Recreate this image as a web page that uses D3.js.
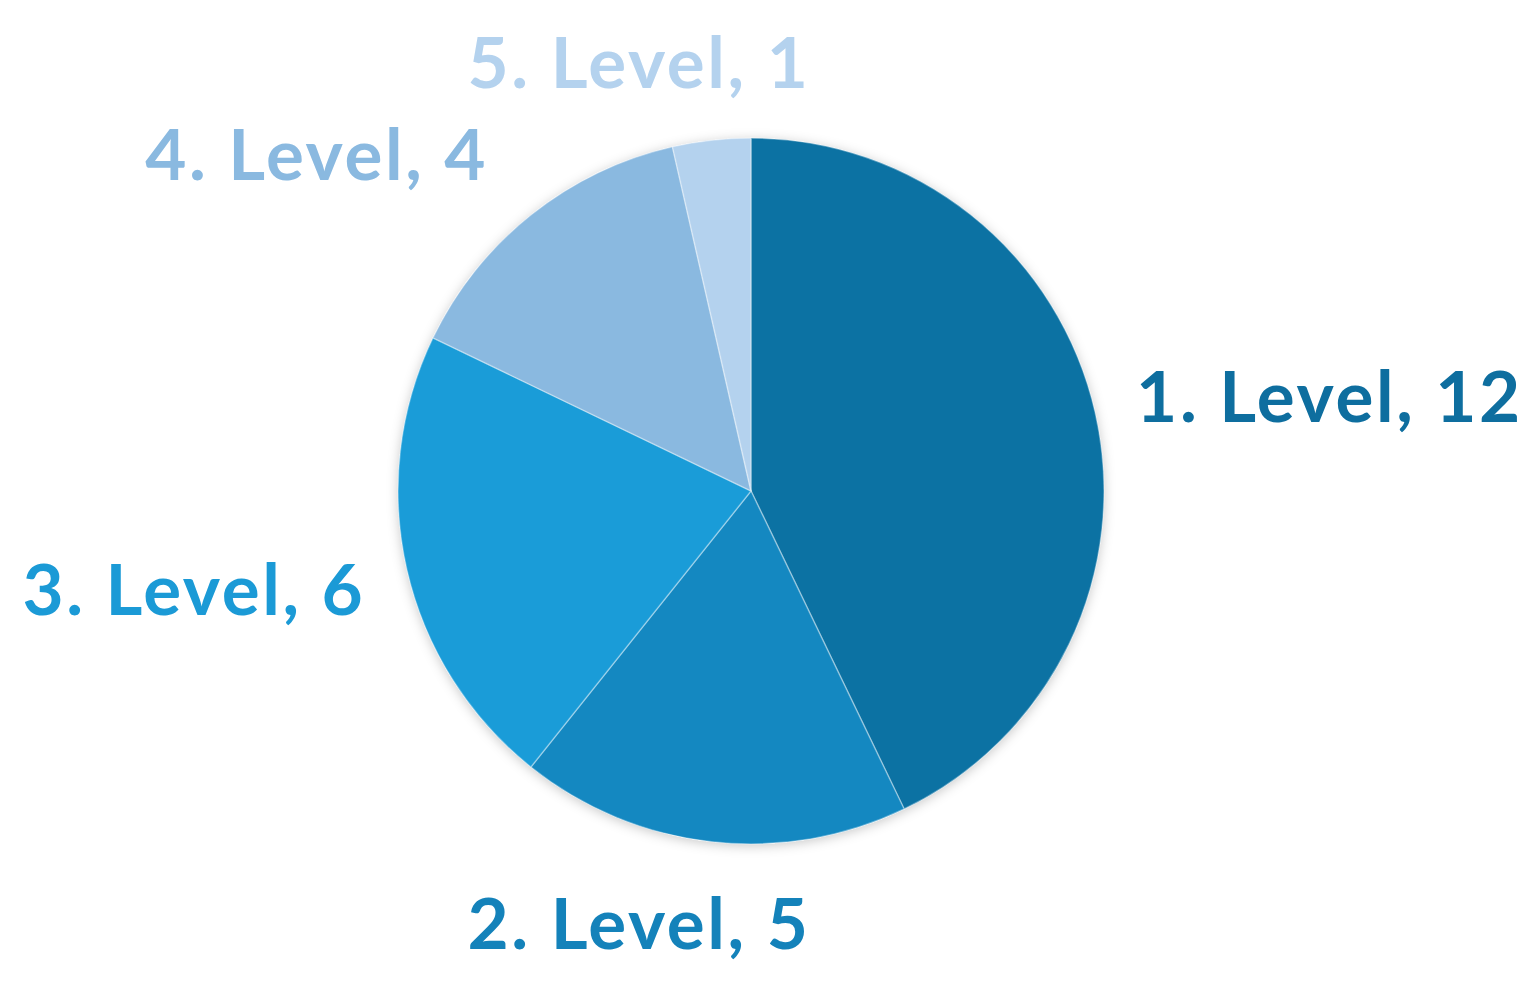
<!DOCTYPE html>
<html>
<head>
<meta charset="utf-8">
<script src="https://cdn.jsdelivr.net/npm/d3@7"></script>
<style>
  body { margin: 0; background: #fff; }
  svg { display: block; }
  text { font-family: Lato, "Open Sans", sans-serif; font-weight: 700; }
</style>
</head>
<body>
<svg width="1535" height="1004"></svg>
<script>
// data
const categories = ["1. Level", "2. Level", "3. Level", "4. Level", "5. Level"];
const values = [12, 5, 6, 4, 1];
const sliceColors = ["#0c72a3", "#1488c1", "#1a9cd8", "#8ab9e0", "#b4d2ee"];
const labelColors = ["#0e6e9f", "#1482ba", "#1b9ad6", "#8ab9e0", "#b4d2ee"];

const svg = d3.select("svg");
const cx = 751, cy = 491, radius = 353;
const labelRadius = 400;
// Excel pushed a few labels left to keep clear of each other
const labelNudge = [0, -48, 0, -78, -48];

// soft shadow round the pie
const defs = svg.append("defs");
const f = defs.append("filter").attr("id", "shadow")
  .attr("x", "-10%").attr("y", "-10%").attr("width", "120%").attr("height", "120%");
f.append("feDropShadow")
  .attr("dx", 0).attr("dy", 2)
  .attr("stdDeviation", 6)
  .attr("flood-color", "#000")
  .attr("flood-opacity", 0.22);

const pie = d3.pie().sort(null).value(d => d);
const arcs = pie(values);
const arc = d3.arc().innerRadius(0).outerRadius(radius);

const g = svg.append("g").attr("transform", `translate(${cx},${cy})`);

// shadow layer (a full disk behind slices)
g.append("circle").attr("r", radius).attr("fill", "#fff").attr("filter", "url(#shadow)");

g.selectAll("path.slice")
  .data(arcs)
  .join("path")
  .attr("class", "slice")
  .attr("d", arc)
  .attr("fill", (d, i) => sliceColors[i])
  .attr("stroke", "rgba(255,255,255,0.35)")
  .attr("stroke-width", 1.5);

// labels, placed just outside the arc at each slice's mid angle
const fontSize = 71;
g.selectAll("text.lbl")
  .data(arcs)
  .join("text")
  .attr("class", "lbl")
  .attr("font-size", fontSize)
  .attr("letter-spacing", 2.6)
  .attr("fill", (d, i) => labelColors[i])
  .attr("dominant-baseline", "central")
  .attr("text-anchor", "middle")
  .text((d, i) => `${categories[i]}, ${values[i]}`)
  .each(function (d, i) {
    const a = (d.startAngle + d.endAngle) / 2;
    const s = Math.sin(a), c = -Math.cos(a);
    const bb = this.getBBox();
    const x = s * labelRadius + s * bb.width / 2 + labelNudge[i];
    const y = c * labelRadius + c * 33;
    d3.select(this).attr("x", x).attr("y", y);
  });
</script>
</body>
</html>
